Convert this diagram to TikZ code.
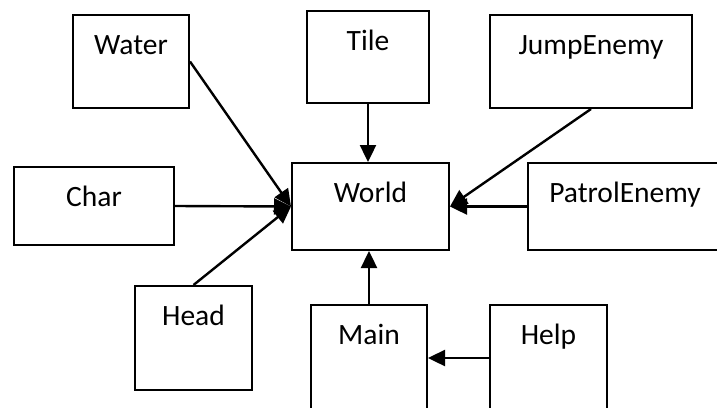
\documentclass[tikz,border=0pt]{standalone}
\usepackage{fontspec}
\setmainfont{Carlito}
\usetikzlibrary{arrows.meta}

\begin{document}
\begin{tikzpicture}[x=1pt,y=-1pt,>={Triangle[length=17pt,width=16pt]},
    font=\fontsize{29.5}{35}\selectfont,
    box/.style={draw,line width=2pt,inner sep=0pt,anchor=north west,
      text height=39pt},
    link/.style={->,line width=2.4pt}]
  \useasboundingbox (0,0) rectangle (717,407);
  \clip (0,0) rectangle (717,407);
  \node[box,minimum width=116pt,text depth=54pt] (water) at (72,14) {Water};
  \node[box,minimum width=122pt,text depth=53pt] (tile) at (306,10) {Tile};
  \node[box,minimum width=202pt,text depth=54pt] (jump) at (489,14) {JumpEnemy};
  \node[box,minimum width=160pt,text depth=39pt] (char) at (13,166) {Char};
  \node[box,minimum width=157pt,text depth=48pt] (world) at (291,162) {World};
  \node[box,minimum width=194pt,text depth=48pt] (patrol) at (527,162) {PatrolEnemy};
  \node[box,minimum width=117pt,text depth=65pt] (head) at (134,285) {Head};
  \node[box,minimum width=116pt,text depth=67pt] (main) at (310,304) {Main};
  \node[box,minimum width=117pt,text depth=67pt] (help) at (489,304) {Help};
  \draw[link] (water.east) -- (world.west);
  \draw[link] (char.east) -- (world.west);
  \draw[link] (head.north) -- (world.west);
  \draw[link] (tile.south) -- (tile.south |- world.north);
  \draw[link] (jump.south) -- (world.east);
  \draw[link] (patrol.west) -- (world.east);
  \draw[link] (main.north) -- (main.north |- world.south);
  \draw[link] (help.west) -- (main.east);
\end{tikzpicture}
\end{document}
